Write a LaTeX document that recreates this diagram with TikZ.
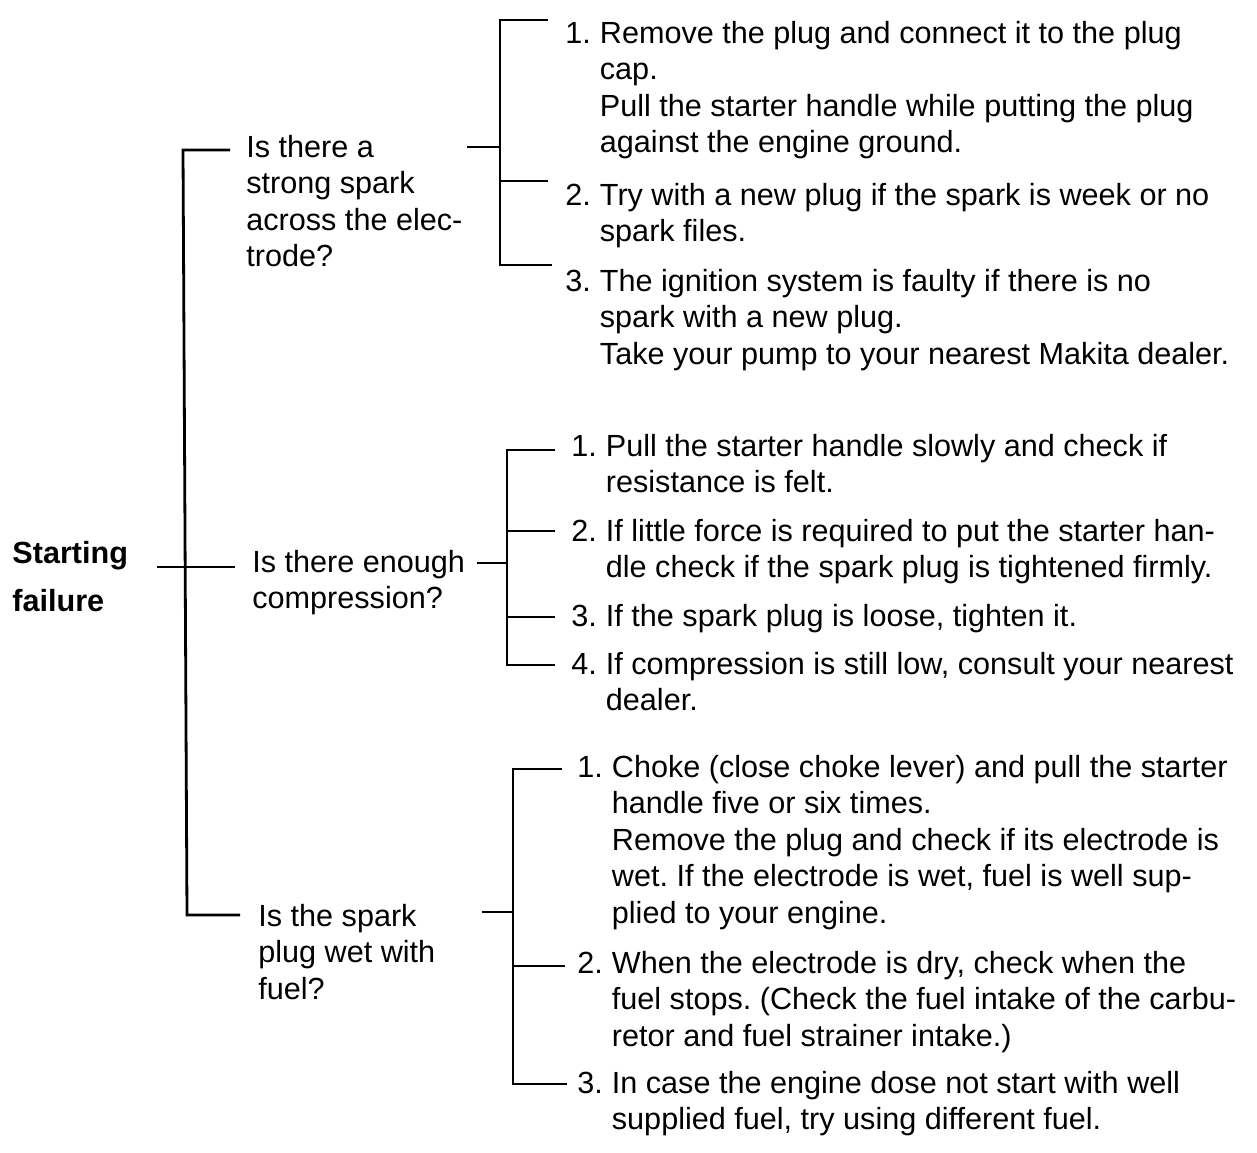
\documentclass[tikz,border=0pt]{standalone}
\usepackage{fontspec}
\setmainfont{Liberation Sans}
\usetikzlibrary{calc}
\frenchspacing
\newcommand{\itm}[2]{\begin{tabular}[t]{@{}l@{\hspace{4.5pt}}l@{}}#1 & #2\end{tabular}}
\newcommand{\qst}[1]{\begin{tabular}[t]{@{}l@{}}#1\end{tabular}}

\begin{document}
\begin{tikzpicture}[x=0.5pt,y=-0.5pt,
  txt/.style={inner sep=0pt,anchor=base west,font=\fontsize{15.3}{18.3}\selectfont},
  ln/.style={line width=1.4pt}]
 \useasboundingbox[fill=white] (0,0) rectangle (1257,1152);
 % root and questions
 \node[txt,font=\fontsize{15.3}{18.3}\selectfont\bfseries] (root) at (12,563) {\qst{Starting\\[5.7pt]failure}};
 \node[txt] (q1) at (246,157) {\qst{Is there a\\strong spark\\across the elec-\\trode?}};
 \node[txt] (q2) at (252,572) {\qst{Is there enough\\compression?}};
 \node[txt] (q3) at (258,926) {\qst{Is the spark\\plug wet with\\fuel?}};
 % answers
 \node[txt] (a1) at (565,43) {\itm{1.}{Remove the plug and connect it to the plug\\ & cap.\\ & Pull the starter handle while putting the plug\\ & against the engine ground.}};
 \node[txt] (a2) at (565,205) {\itm{2.}{Try with a new plug if the spark is week or no\\ & spark files.}};
 \node[txt] (a3) at (565,291) {\itm{3.}{The ignition system is faulty if there is no\\ & spark with a new plug.\\ & Take your pump to your nearest Makita dealer.}};
 \node[txt] (b1) at (571,456) {\itm{1.}{Pull the starter handle slowly and check if\\ & resistance is felt.}};
 \node[txt] (b2) at (571,541) {\itm{2.}{If little force is required to put the starter han-\\ & dle check if the spark plug is tightened firmly.}};
 \node[txt] (b3) at (571,626) {\itm{3.}{If the spark plug is loose, tighten it.}};
 \node[txt] (b4) at (571,674) {\itm{4.}{If compression is still low, consult your nearest\\ & dealer.}};
 \node[txt] (c1) at (577,777) {\itm{1.}{Choke (close choke lever) and pull the starter\\ & handle five or six times.\\ & Remove the plug and check if its electrode is\\ & wet. If the electrode is wet, fuel is well sup-\\ & plied to your engine.}};
 \node[txt] (c2) at (577,973) {\itm{2.}{When the electrode is dry, check when the\\ & fuel stops. (Check the fuel intake of the carbu-\\ & retor and fuel strainer intake.)}};
 \node[txt] (c3) at (577,1093) {\itm{3.}{In case the engine dose not start with well\\ & supplied fuel, try using different fuel.}};
 % trunk
 \coordinate (tr1) at (183,150); \coordinate (tr2) at (185,567); \coordinate (tr3) at (187,915);
 \draw[ln,shorten <=8pt,shorten >=9pt] (q1.west |- tr1) -- (tr1) -- (tr3) -- (q3.west |- tr3);
 \draw[ln,shorten <=14.5pt,shorten >=8.5pt] (root.east |- tr2) -- (q2.west |- tr2);
 % brackets
 \coordinate (m1) at (500,147); \coordinate (g1a) at (500,20); \coordinate (g1b) at (500,181); \coordinate (g1c) at (500,265);
 \draw[ln,shorten <=2pt] (q1.east |- m1) -- (m1);
 \draw[ln,shorten <=8.5pt,shorten >=6.5pt] (a1.west |- g1a) -- (g1a) -- (g1c) -- (a3.west |- g1c);
 \draw[ln,shorten >=8.5pt] (g1b) -- (a2.west |- g1b);
 \coordinate (m2) at (507,563); \coordinate (g2a) at (507,450); \coordinate (g2b) at (507,531); \coordinate (g2c) at (507,617); \coordinate (g2d) at (507,665);
 \draw[ln,shorten <=6pt] (q2.east |- m2) -- (m2);
 \draw[ln,shorten <=8pt,shorten >=8pt] (b1.west |- g2a) -- (g2a) -- (g2d) -- (b4.west |- g2d);
 \foreach \g/\b in {g2b/b2,g2c/b3} \draw[ln,shorten >=8pt] (\g) -- (\b.west |- \g);
 \coordinate (m3) at (513,912); \coordinate (g3a) at (513,769); \coordinate (g3b) at (513,966); \coordinate (g3c) at (513,1084);
 \draw[ln,shorten <=23pt] (q3.east |- m3) -- (m3);
 \draw[ln,shorten <=7.5pt,shorten >=5pt] (c1.west |- g3a) -- (g3a) -- (g3c) -- (c3.west |- g3c);
 \draw[ln,shorten >=6pt] (g3b) -- (c2.west |- g3b);
\end{tikzpicture}
\end{document}
